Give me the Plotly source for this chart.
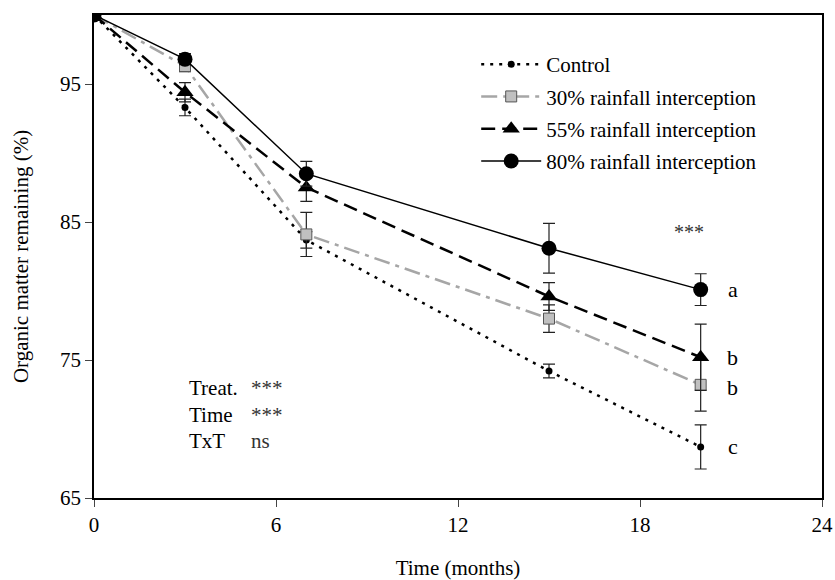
import plotly.graph_objects as go

months = [0, 3, 7, 15, 20]
series_names = ["Control", "30% rainfall interception", "55% rainfall interception", "80% rainfall interception"]
control = [100, 93.3, 83.7, 74.2, 68.7]
control_err = [0, 0.6, 0.6, 0.5, 1.6]
r30 = [100, 96.3, 84.1, 78.0, 73.2]
r30_err = [0, 0.4, 1.6, 1.0, 1.9]
r55 = [100, 94.4, 87.5, 79.6, 75.2]
r55_err = [0, 0.7, 1.0, 1.0, 2.4]
r80 = [100, 96.8, 88.5, 83.1, 80.1]
r80_err = [0, 0.4, 0.9, 1.8, 1.15]
letters = ["c", "b", "b", "a"]
letter_y = [68.7, 73.0, 75.2, 80.1]

FONT = "Liberation Serif, Times New Roman, serif"

fig = go.Figure()
styles = [
    (control, control_err, dict(color="black", width=2.5, dash="3px,6px"),
     dict(symbol="circle", size=7, color="black")),
    (r30, r30_err, dict(color="#a6a6a6", width=2.5, dash="16px,6px,4px,6px"),
     dict(symbol="square", size=11, color="#c0c0c0", line=dict(color="#555555", width=1))),
    (r55, r55_err, dict(color="black", width=2.5, dash="14px,7px"),
     dict(symbol="triangle-up", size=15, color="black")),
    (r80, r80_err, dict(color="black", width=1.5),
     dict(symbol="circle", size=15, color="black")),
]
for i, (name, (ys, errs, line, marker)) in enumerate(zip(series_names, styles)):
    fig.add_trace(go.Scatter(
        x=months, y=ys, name=name, mode="lines+markers", legendgroup=f"g{i}",
        line=line, marker=marker,
        error_y=dict(type="data", array=errs, color="#222222", thickness=1.2, width=6),
    ))

for lt, ly in zip(letters, letter_y):
    fig.add_annotation(x=21.05, y=ly, text=lt, showarrow=False, xanchor="center",
                       font=dict(family=FONT, size=22, color="black"))
fig.add_annotation(x=19.6, y=84.3, text="***", showarrow=False,
                   font=dict(family=FONT, size=20, color="#333333"))

stats = [("Treat.", "***"), ("Time", "***"), ("TxT", "ns")]
for i, (lab, sig) in enumerate(stats):
    yv = 73.0 - i * 1.95
    fig.add_annotation(x=3.05, y=yv, text=lab, showarrow=False, xanchor="left",
                       font=dict(family=FONT, size=21, color="black"))
    fig.add_annotation(x=5.1, y=yv, text=sig, showarrow=False, xanchor="left",
                       font=dict(family=FONT, size=21, color="#333333"))

fig.update_layout(
    width=835, height=580,
    margin=dict(l=94, r=13, t=15, b=82, autoexpand=False),
    paper_bgcolor="white", plot_bgcolor="white",
    font=dict(family=FONT, size=21, color="black"),
    showlegend=True,
    legend=dict(x=0.525, y=0.94, xanchor="left", yanchor="top",
                bgcolor="rgba(0,0,0,0)", font=dict(family=FONT, size=21),
                tracegroupgap=2, itemwidth=60),
)
fig.update_xaxes(range=[0, 24], tickvals=[0, 6, 12, 18, 24], ticks="outside", ticklen=7,
                 showline=True, linecolor="black", linewidth=1.5, mirror=True,
                 showgrid=False, zeroline=False, automargin=False,
                 title=dict(text="Time (months)", font=dict(family=FONT, size=21), standoff=27),
                 tickfont=dict(family=FONT, size=21))
fig.update_yaxes(range=[65, 100], tickvals=[65, 75, 85, 95], ticks="outside", ticklen=7,
                 showline=True, linecolor="black", linewidth=1.5, mirror=True,
                 showgrid=False, zeroline=False, automargin=False,
                 title=dict(text="Organic matter remaining (%)", font=dict(family=FONT, size=21), standoff=26),
                 tickfont=dict(family=FONT, size=21))

fig.write_html("out.html")
